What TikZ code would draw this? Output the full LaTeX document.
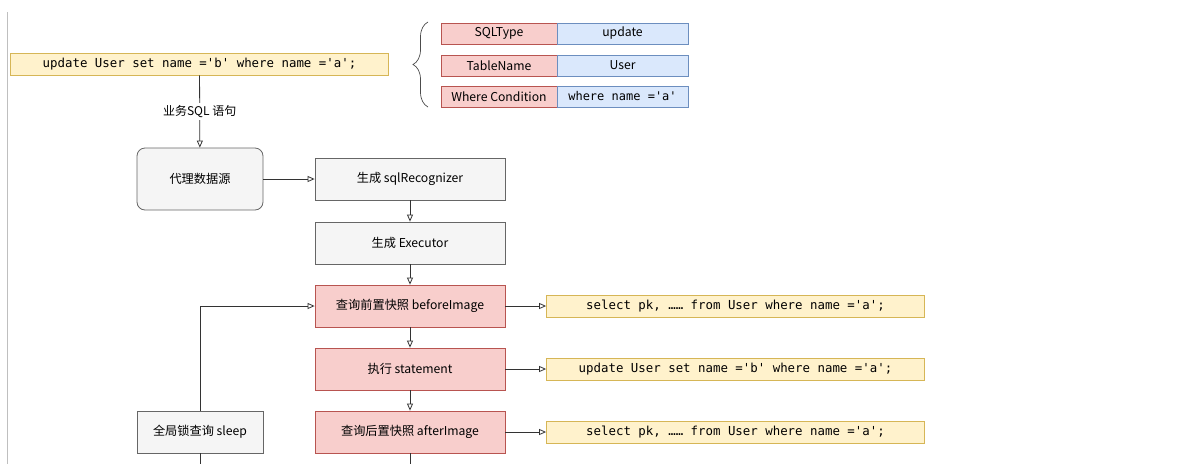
\documentclass[tikz,border=0pt]{standalone}
\usepackage{fontspec}
\setmainfont{Noto Sans CJK SC}
\setmonofont{DejaVu Sans Mono}
\usepackage{tikz}
\usetikzlibrary{arrows.meta,decorations.pathreplacing}

\definecolor{SqlFill}{HTML}{FFF2CC}
\definecolor{SqlLine}{HTML}{D6B656}
\definecolor{RedFill}{HTML}{F8CECC}
\definecolor{RedLine}{HTML}{B85450}
\definecolor{BlueFill}{HTML}{DAE8FC}
\definecolor{BlueLine}{HTML}{6C8EBF}
\definecolor{GreyFill}{HTML}{F5F5F5}
\definecolor{GreyLine}{HTML}{666666}

\begin{document}
\begin{tikzpicture}[ x=1pt, y=-1pt,
										line width = 0.8pt,
										flow/.style={draw=black!80, -{Triangle[open,length=7pt,width=6pt]}},
										link/.style={draw=black!80},
										sqlbox/.style={draw=SqlLine, fill=SqlFill, minimum width=378pt, minimum height=22pt, inner sep=0pt, font=\ttfamily\fontsize{12.4}{14}\selectfont},
										stepbox/.style={draw=GreyLine, fill=GreyFill, minimum width=190pt, minimum height=42pt, inner sep=0pt, font=\fontsize{12.2}{14}\selectfont},
										hotbox/.style={stepbox, draw=RedLine, fill=RedFill},
										sidebox/.style={stepbox, minimum width=126pt},
										keycell/.style={draw=RedLine, fill=RedFill, minimum width=116pt, minimum height=21pt, inner sep=0pt, font=\fontsize{12.2}{14}\selectfont},
										valcell/.style={draw=BlueLine, fill=BlueFill, minimum width=131pt, minimum height=21pt, inner sep=0pt, font=\fontsize{12.2}{14}\selectfont}]

		\useasboundingbox (0,0) rectangle (1203,464);
		\draw [black!25] (7,12) -- (7,464);

		\node [sqlbox] (bizsql) at (199.5,64) {update User set name ='b' where name ='a';};

		\draw [decorate, decoration={brace, amplitude=15pt, aspect=0.5}, line width=0.7pt, black!70] (428,107) -- (428,22);

		\node [keycell] (k1) at (499,33.5) {SQLType};
		\node [valcell] (v1) at (622.5,33.5) {update};
		\node [keycell] (k2) at (499,65.5) {TableName};
		\node [valcell] (v2) at (622.5,65.5) {User};
		\node [keycell] (k3) at (499,96.5) {Where Condition};
		\node [valcell, font=\ttfamily\fontsize{12}{14}\selectfont] (v3) at (622.5,96.5) {where name ='a'};

		\node [sidebox, rounded corners=8pt, minimum height=62pt] (proxy) at (200,179) {代理数据源};
		\node [stepbox] (recog) at (410,179) {生成 sqlRecognizer};
		\node [stepbox] (exec) at (410,243) {生成 Executor};
		\node [hotbox] (before) at (410,306) {查询前置快照 beforeImage};
		\node [hotbox] (stmt) at (410,369) {执行 statement};
		\node [hotbox] (after) at (410,432) {查询后置快照 afterImage};
		\node [sidebox] (sleep) at (200,432) {全局锁查询 sleep};

		\node [sqlbox] (selbefore) at (735.5,306) {select pk, …… from User where name ='a';};
		\node [sqlbox] (upd) at (735.5,369) {update User set name ='b' where name ='a';};
		\node [sqlbox] (selafter) at (735.5,432) {select pk, …… from User where name ='a';};

		\coordinate (afterend) at (410,464);
		\coordinate (sleepend) at (200,464);

		\draw [flow] (bizsql) -- node [fill=white, inner sep=2pt, font=\fontsize{12}{14}\selectfont] {业务SQL 语句} (proxy);
		\draw [flow] (proxy.east |- recog) -- (recog);
		\draw [flow] (recog) -- (exec);
		\draw [flow] (exec) -- (before);
		\draw [flow] (before) -- (stmt);
		\draw [flow] (stmt) -- (after);
		\draw [link] (after) -- (afterend);
		\draw [flow] (before) -- (selbefore);
		\draw [flow] (stmt) -- (upd);
		\draw [flow] (after) -- (selafter);
		\draw [flow] (sleep) |- (before);
		\draw [link] (sleep) -- (sleepend);

		\end{tikzpicture}
\end{document}
